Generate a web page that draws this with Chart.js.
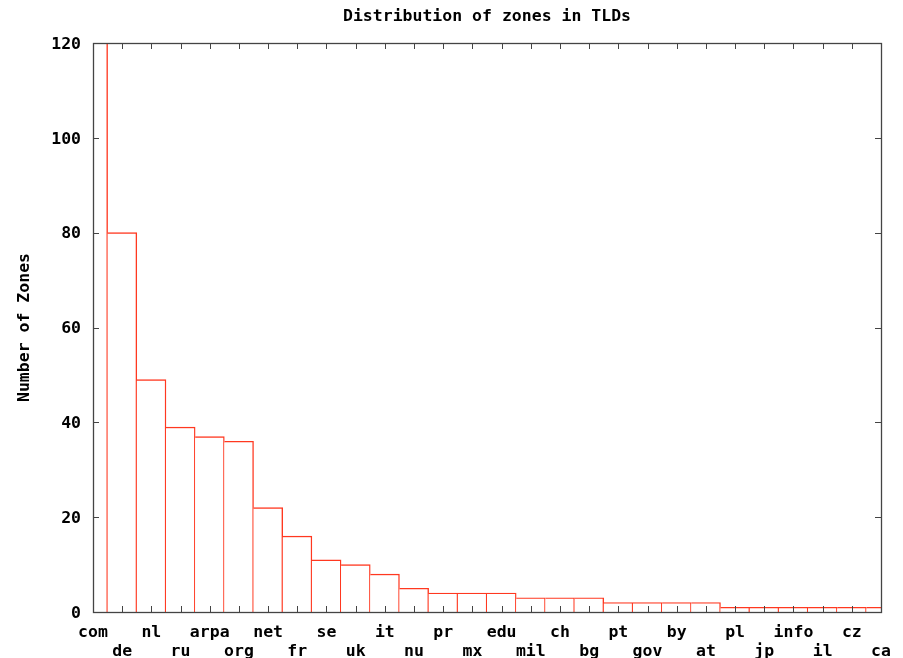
<!DOCTYPE html>
<html lang="en">
  <head>
    <meta charset="UTF-8" />
    <title>Distribution of zones in TLDs</title>
    <style>
      html, body { margin: 0; padding: 0; background: #ffffff; }
      canvas { display: block; }
    </style>
  </head>
  <body>
    <canvas id="tldChart" width="903" height="658"></canvas>

    <script src="https://cdn.jsdelivr.net/npm/chart.js"></script>

    <script>
      // zones per top level domain (com runs off the top of the plot)
      const tlds = [
        "com", "de", "nl", "ru", "arpa", "org", "net", "fr", "se", "uk",
        "it", "nu", "pr", "mx", "edu", "mil", "ch", "bg", "pt", "gov",
        "by", "at", "pl", "jp", "info", "il", "cz", "ca",
      ];
      const zoneCounts = [
        250, 80, 49, 39, 37, 36, 22, 16, 11, 10,
        8, 5, 4, 4, 4, 3, 3, 3, 2, 2,
        2, 2, 1, 1, 1, 1, 1, 1,
      ];
      const yTicks = [0, 20, 40, 60, 80, 100, 120];

      const monoFont = "'DejaVu Sans Mono', 'Liberation Mono', monospace";
      const frameColor = "#444444";

      // gnuplot style box with ticks pointing inwards on all four sides
      const framePlugin = {
        id: "frame",
        afterLayout(chart) {
          // centre the title over the plot, not the whole canvas
          if (chart.titleBlock) {
            chart.titleBlock.left = chart.chartArea.left;
            chart.titleBlock.right = chart.chartArea.right;
          }
        },
        afterDraw(chart) {
          const { ctx, chartArea: a, scales } = chart;
          const len = 6;
          ctx.save();
          ctx.strokeStyle = frameColor;
          ctx.lineWidth = 1;
          ctx.beginPath();
          scales.x.ticks.forEach((t, i) => {
            const px = Math.round(scales.x.getPixelForTick(i)) + 0.5;
            ctx.moveTo(px, a.bottom);
            ctx.lineTo(px, a.bottom - len);
            ctx.moveTo(px, a.top);
            ctx.lineTo(px, a.top + len);
          });
          scales.y.ticks.forEach((t, i) => {
            const py = Math.round(scales.y.getPixelForTick(i)) + 0.5;
            ctx.moveTo(a.left, py);
            ctx.lineTo(a.left + len, py);
            ctx.moveTo(a.right, py);
            ctx.lineTo(a.right - len, py);
          });
          ctx.stroke();
          ctx.lineWidth = 1.3;
          ctx.strokeRect(
            Math.round(a.left) + 0.5,
            Math.round(a.top) + 0.5,
            Math.round(a.right - a.left),
            Math.round(a.bottom - a.top)
          );
          ctx.restore();
        },
      };

      const ctx = document.getElementById("tldChart").getContext("2d");

      const tldChart = new Chart(ctx, {
        type: "bar",
        data: {
          labels: tlds,
          datasets: [
            {
              label: "zones",
              data: zoneCounts,
              backgroundColor: "#ffffff",
              borderColor: "#ff3820",
              // only top and right edges, so neighbouring boxes share one line
              borderWidth: { top: 1.4, right: 1.4, left: 0, bottom: 0 },
              borderSkipped: false,
              barPercentage: 1,
              categoryPercentage: 1,
              clip: 0,
            },
          ],
        },
        plugins: [framePlugin],
        options: {
          responsive: false,
          animation: false,
          layout: { padding: { left: 0, right: 22, top: 0, bottom: 0 } },
          plugins: {
            legend: { display: false },
            tooltip: { enabled: false },
            title: {
              display: true,
              text: "Distribution of zones in TLDs",
              color: "#000000",
              font: { family: monoFont, size: 16.5, weight: "bold", lineHeight: 1.2 },
              padding: { top: 7, bottom: 16.2 },
            },
          },
          scales: {
            x: {
              offset: false,
              grid: { display: false, drawTicks: false },
              border: { display: false },
              ticks: {
                autoSkip: false,
                maxRotation: 0,
                minRotation: 0,
                padding: 12,
                color: "#000000",
                font: { family: monoFont, size: 16.5, weight: "bold", lineHeight: 1.1 },
                callback: (v, i) => (i % 2 === 0 ? tlds[i] : ["", tlds[i]]),
              },
              afterFit: (scale) => {
                scale.height = 46;
              },
            },
            y: {
              min: 0,
              max: 120,
              afterBuildTicks: (scale) => {
                scale.ticks = yTicks.map((v) => ({ value: v }));
              },
              grid: { display: false, drawTicks: false },
              border: { display: false },
              ticks: {
                padding: 12,
                labelOffset: 1.5,
                color: "#000000",
                font: { family: monoFont, size: 16.5, weight: "bold" },
              },
              title: {
                display: true,
                text: "Number of Zones",
                color: "#000000",
                font: { family: monoFont, size: 16.5, weight: "bold", lineHeight: 1.2 },
                padding: { top: 15, bottom: 0 },
              },
              afterFit: (scale) => {
                scale.width = 93;
              },
            },
          },
        },
      });
    </script>
  </body>
</html>
